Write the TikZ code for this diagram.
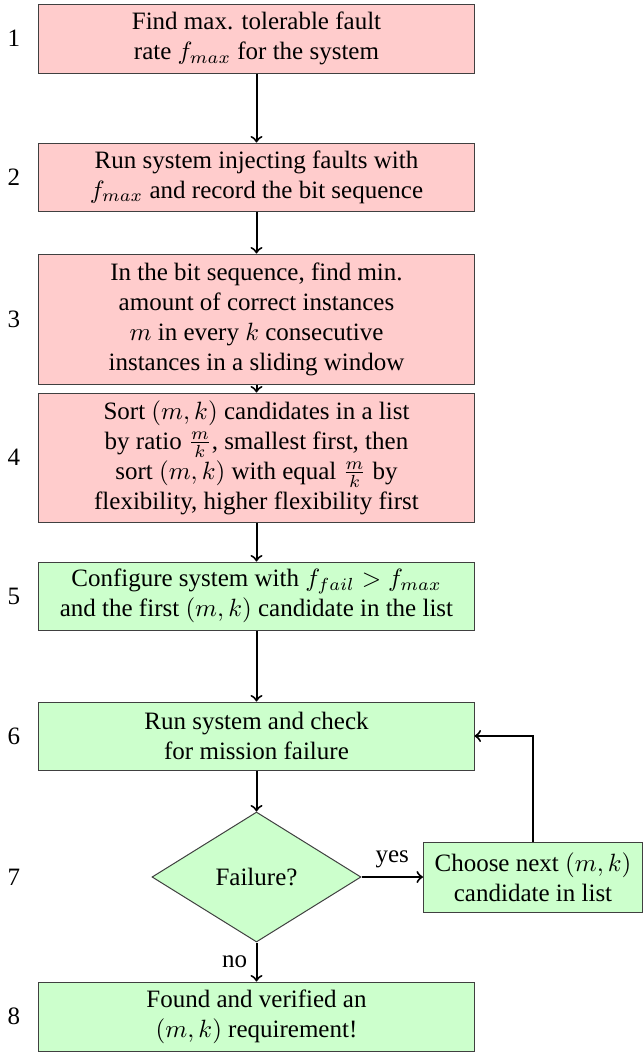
\documentclass[tikz,border=0pt]{standalone}
\usepackage{fontspec}
\setmainfont{Liberation Serif}
\usetikzlibrary{shapes.geometric}
\begin{document}
\begin{tikzpicture}[x=0.4pt,y=-0.4pt,
  box/.style={draw=black!75, thin, align=center, minimum width=174pt, inner sep=2pt},
  redbox/.style={box, fill=red!20},
  greenbox/.style={box, fill=green!20},
  decision/.style={diamond, draw=black!75, thin, fill=green!20, minimum width=83.6pt, minimum height=52pt, inner sep=0pt},
  flow/.style={->, thick},
  stepnum/.style={anchor=center}]
\useasboundingbox (0,0) rectangle (644,1055);

\node[redbox, minimum height=27.6pt] (s1) at (256.5,38.5) {Find max. tolerable fault\\rate $f_{max}$ for the system};
\node[redbox, minimum height=27.2pt] (s2) at (256.5,177) {Run system injecting faults with\\$f_{max}$ and record the bit sequence};
\node[redbox, minimum height=52pt] (s3) at (256.5,319) {In the bit sequence, find min.\\amount of correct instances\\$m$ in every $k$ consecutive\\instances in a sliding window};
\node[redbox, minimum height=51.6pt] (s4) at (256.5,457.5) {Sort $(m,k)$ candidates in a list\\by ratio $\frac{m}{k}$, smallest first, then\\sort $(m,k)$ with equal $\frac{m}{k}$ by\\flexibility, higher flexibility first};
\node[greenbox, minimum height=27.2pt] (s5) at (256.5,596) {Configure system with $f_{fail} > f_{max}$\\and the first $(m,k)$ candidate in the list};
\node[greenbox, minimum height=27.2pt] (s6) at (256.5,736) {Run system and check\\for mission failure};
\node[decision] (s7) at (256.5,877) {Failure?};
\node[box, fill=green!20, minimum width=87.6pt, minimum height=28pt] (nx) at (533,877) {Choose next $(m,k)$\\candidate in list};
\node[greenbox, minimum height=27.6pt] (s8) at (256.5,1016.5) {Found and verified an\\$(m,k)$ requirement!};

\node[stepnum] (n1) at (14,38.5) {1};
\node[stepnum] (n2) at (14,177) {2};
\node[stepnum] (n3) at (14,319) {3};
\node[stepnum] (n4) at (14,457.5) {4};
\node[stepnum] (n5) at (14,596) {5};
\node[stepnum] (n6) at (14,736) {6};
\node[stepnum] (n7) at (14,877) {7};
\node[stepnum] (n8) at (14,1016.5) {8};

\draw[flow] (s1) -- (s2);
\draw[flow] (s2) -- (s3);
\draw[flow] (s3) -- (s4);
\draw[flow] (s4) -- (s5);
\draw[flow] (s5) -- (s6);
\draw[flow] (s6) -- (s7);
\draw[flow] (s7) -- node[left] {no} (s8);
\draw[flow] (s7) -- node[above] {yes} (nx);
\draw[flow] (nx.north) |- (s6.east);
\end{tikzpicture}
\end{document}
